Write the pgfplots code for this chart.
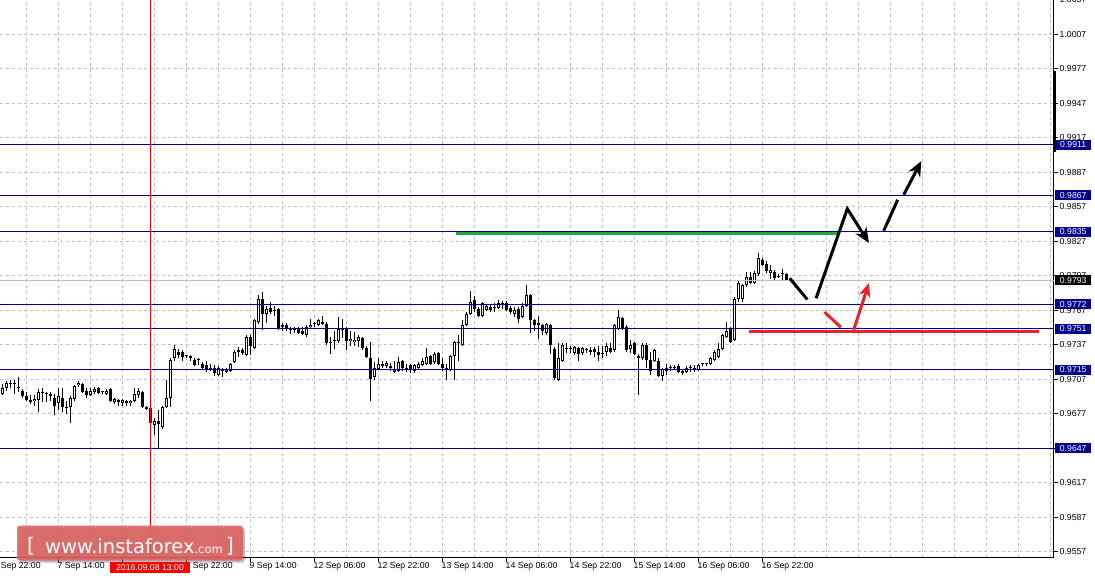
\documentclass[border=0pt]{standalone}
\usepackage{fontspec}
\setmainfont{Liberation Sans}
\newfontfamily\wmfont{DejaVu Sans}
\usepackage{pgfplots}
\usepackage{pgfplotstable}
\pgfplotsset{compat=1.18}
\usetikzlibrary{arrows.meta}
\definecolor{navy}{RGB}{0,0,140}
\definecolor{lvlgreen}{RGB}{34,168,72}
\definecolor{annred}{RGB}{238,32,40}
\definecolor{gridgray}{RGB}{192,192,192}
\definecolor{wmred}{RGB}{222,96,96}

% bullish (hollow) candles: index, open, high, low, close
\pgfplotstableread{
i o h l c
2 0.9694 0.9703 0.9693 0.9699
3 0.9699 0.9705 0.9697 0.9704
10 0.9688 0.9693 0.9684 0.9690
11 0.9689 0.9698 0.9678 0.9696
16 0.9686 0.9699 0.9680 0.9692
19 0.9683 0.9692 0.9669 0.9691
20 0.9690 0.9702 0.9688 0.9701
21 0.9702 0.9705 0.9700 0.9704
24 0.9693 0.9699 0.9692 0.9697
25 0.9696 0.9700 0.9694 0.9698
28 0.9694 0.9698 0.9693 0.9697
30 0.9687 0.9691 0.9685 0.9690
32 0.9686 0.9690 0.9684 0.9689
34 0.9686 0.9689 0.9684 0.9688
35 0.9688 0.9699 0.9687 0.9694
36 0.9693 0.9699 0.9691 0.9697
40 0.9667 0.9673 0.9658 0.9671
42 0.9665 0.9684 0.9664 0.9683
43 0.9683 0.9706 0.9682 0.9691
44 0.9691 0.9725 0.9683 0.9724
45 0.9725 0.9737 0.9723 0.9733
56 0.9711 0.9718 0.9710 0.9717
59 0.9714 0.9721 0.9713 0.9720
60 0.9722 0.9732 0.9721 0.9731
63 0.9728 0.9745 0.9727 0.9744
65 0.9734 0.9759 0.9733 0.9758
66 0.9757 0.9780 0.9755 0.9777
68 0.9764 0.9771 0.9756 0.9768
78 0.9745 0.9754 0.9744 0.9752
79 0.9752 0.9759 0.9751 0.9754
81 0.9754 0.9759 0.9753 0.9758
86 0.9740 0.9761 0.9738 0.9751
89 0.9740 0.9749 0.9736 0.9742
90 0.9739 0.9748 0.9736 0.9741
91 0.9740 0.9745 0.9735 0.9744
95 0.9709 0.9722 0.9706 0.9717
96 0.9716 0.9725 0.9715 0.9720
98 0.9718 0.9723 0.9717 0.9721
101 0.9714 0.9726 0.9713 0.9722
105 0.9714 0.9720 0.9712 0.9719
106 0.9717 0.9722 0.9716 0.9720
107 0.9719 0.9725 0.9718 0.9723
108 0.9720 0.9734 0.9719 0.9726
110 0.9722 0.9731 0.9720 0.9729
114 0.9715 0.9728 0.9714 0.9727
115 0.9727 0.9740 0.9706 0.9739
117 0.9737 0.9758 0.9736 0.9754
118 0.9754 0.9765 0.9753 0.9764
119 0.9764 0.9784 0.9763 0.9774
122 0.9762 0.9774 0.9761 0.9773
123 0.9767 0.9772 0.9766 0.9771
126 0.9769 0.9776 0.9768 0.9773
130 0.9764 0.9770 0.9761 0.9767
132 0.9761 0.9773 0.9760 0.9771
133 0.9771 0.9789 0.9770 0.9780
138 0.9747 0.9756 0.9745 0.9755
141 0.9706 0.9738 0.9705 0.9725
142 0.9723 0.9738 0.9722 0.9737
145 0.9730 0.9736 0.9728 0.9735
147 0.9730 0.9735 0.9728 0.9734
153 0.9731 0.9738 0.9727 0.9736
155 0.9732 0.9755 0.9731 0.9754
156 0.9751 0.9767 0.9750 0.9761
159 0.9733 0.9741 0.9730 0.9737
162 0.9725 0.9738 0.9724 0.9737
165 0.9723 0.9733 0.9722 0.9732
167 0.9710 0.9717 0.9705 0.9716
168 0.9714 0.9720 0.9711 0.9717
173 0.9713 0.9718 0.9712 0.9717
176 0.9715 0.9720 0.9714 0.9719
179 0.9720 0.9726 0.9719 0.9725
180 0.9724 0.9732 0.9723 0.9731
181 0.9726 0.9738 0.9725 0.9733
182 0.9733 0.9746 0.9732 0.9745
183 0.9744 0.9757 0.9743 0.9749
185 0.9741 0.9778 0.9740 0.9777
186 0.9777 0.9793 0.9774 0.9791
187 0.9777 0.9790 0.9774 0.9789
188 0.9789 0.9800 0.9787 0.9796
190 0.9791 0.9801 0.9790 0.9799
191 0.9798 0.9817 0.9797 0.9812
194 0.9799 0.9806 0.9794 0.9802
}\bull

% bearish (filled) and doji candles
\pgfplotstableread{
i o h l c
4 0.9702 0.9706 0.9699 0.9703
5 0.9704 0.9706 0.9694 0.9703
6 0.9700 0.9709 0.9696 0.9699
7 0.9697 0.9698 0.9691 0.9692
8 0.9692 0.9696 0.9688 0.9689
9 0.9689 0.9693 0.9685 0.9687
12 0.9695 0.9699 0.9687 0.9695
13 0.9695 0.9696 0.9687 0.9694
14 0.9694 0.9696 0.9688 0.9692
15 0.9691 0.9694 0.9676 0.9684
17 0.9691 0.9699 0.9678 0.9683
18 0.9683 0.9688 0.9677 0.9682
22 0.9703 0.9704 0.9695 0.9696
23 0.9697 0.9699 0.9691 0.9693
26 0.9699 0.9700 0.9694 0.9695
27 0.9696 0.9697 0.9694 0.9696
29 0.9698 0.9699 0.9687 0.9688
31 0.9689 0.9690 0.9684 0.9687
33 0.9688 0.9689 0.9684 0.9686
37 0.9696 0.9697 0.9682 0.9683
38 0.9683 0.9684 0.9680 0.9681
39 0.9682 0.9685 0.9668 0.9669
41 0.9671 0.9680 0.9647 0.9668
46 0.9731 0.9733 0.9725 0.9728
47 0.9731 0.9732 0.9723 0.9726
48 0.9727 0.9728 0.9725 0.9727
49 0.9727 0.9728 0.9723 0.9725
50 0.9724 0.9725 0.9718 0.9719
51 0.9724 0.9725 0.9719 0.9724
52 0.9720 0.9722 0.9716 0.9717
53 0.9719 0.9723 0.9713 0.9716
54 0.9717 0.9720 0.9714 0.9716
55 0.9717 0.9719 0.9710 0.9712
57 0.9715 0.9717 0.9709 0.9714
58 0.9716 0.9717 0.9712 0.9713
61 0.9731 0.9735 0.9726 0.9731
62 0.9732 0.9734 0.9728 0.9730
64 0.9744 0.9745 0.9728 0.9736
67 0.9777 0.9783 0.9750 0.9764
69 0.9769 0.9774 0.9764 0.9765
70 0.9766 0.9771 0.9762 0.9766
71 0.9768 0.9769 0.9750 0.9751
72 0.9754 0.9756 0.9749 0.9752
73 0.9754 0.9756 0.9749 0.9751
74 0.9749 0.9752 0.9746 0.9750
75 0.9750 0.9752 0.9747 0.9750
76 0.9751 0.9752 0.9746 0.9747
77 0.9749 0.9752 0.9745 0.9746
80 0.9754 0.9757 0.9752 0.9755
82 0.9757 0.9762 0.9754 0.9755
83 0.9755 0.9757 0.9737 0.9738
84 0.9739 0.9744 0.9729 0.9738
85 0.9741 0.9749 0.9733 0.9740
87 0.9751 0.9759 0.9743 0.9750
88 0.9751 0.9752 0.9732 0.9740
92 0.9743 0.9744 0.9732 0.9734
93 0.9734 0.9736 0.9725 0.9726
94 0.9725 0.9739 0.9688 0.9707
97 0.9720 0.9723 0.9717 0.9718
99 0.9718 0.9721 0.9714 0.9717
100 0.9716 0.9723 0.9712 0.9713
102 0.9723 0.9724 0.9714 0.9717
103 0.9717 0.9720 0.9713 0.9716
104 0.9719 0.9720 0.9712 0.9715
109 0.9727 0.9728 0.9719 0.9720
111 0.9730 0.9731 0.9719 0.9720
112 0.9720 0.9725 0.9714 0.9717
113 0.9717 0.9720 0.9706 0.9715
116 0.9739 0.9745 0.9723 0.9738
120 0.9776 0.9779 0.9765 0.9768
121 0.9768 0.9770 0.9761 0.9762
124 0.9770 0.9772 0.9765 0.9767
125 0.9770 0.9773 0.9765 0.9769
127 0.9772 0.9775 0.9768 0.9772
128 0.9773 0.9775 0.9766 0.9767
129 0.9769 0.9771 0.9764 0.9765
131 0.9768 0.9770 0.9756 0.9759
134 0.9780 0.9781 0.9747 0.9758
135 0.9758 0.9759 0.9749 0.9754
136 0.9756 0.9762 0.9742 0.9754
137 0.9754 0.9755 0.9745 0.9749
139 0.9754 0.9755 0.9729 0.9737
140 0.9733 0.9735 0.9706 0.9708
143 0.9734 0.9738 0.9730 0.9733
144 0.9734 0.9736 0.9730 0.9733
146 0.9734 0.9735 0.9723 0.9729
148 0.9732 0.9734 0.9730 0.9732
149 0.9732 0.9735 0.9728 0.9731
150 0.9733 0.9735 0.9726 0.9731
151 0.9731 0.9736 0.9723 0.9728
152 0.9730 0.9736 0.9725 0.9729
154 0.9734 0.9738 0.9730 0.9731
157 0.9760 0.9761 0.9750 0.9751
158 0.9752 0.9754 0.9731 0.9732
160 0.9738 0.9739 0.9728 0.9729
161 0.9727 0.9729 0.9693 0.9725
163 0.9737 0.9738 0.9717 0.9724
164 0.9724 0.9731 0.9711 0.9714
166 0.9723 0.9725 0.9709 0.9710
169 0.9717 0.9719 0.9714 0.9717
170 0.9717 0.9719 0.9715 0.9717
171 0.9718 0.9720 0.9712 0.9713
172 0.9714 0.9716 0.9711 0.9712
174 0.9717 0.9719 0.9713 0.9717
175 0.9717 0.9719 0.9713 0.9716
177 0.9719 0.9721 0.9718 0.9720
178 0.9719 0.9721 0.9718 0.9720
184 0.9751 0.9752 0.9738 0.9739
189 0.9796 0.9800 0.9790 0.9791
192 0.9811 0.9812 0.9805 0.9806
193 0.9807 0.9810 0.9799 0.9801
195 0.9800 0.9802 0.9793 0.9795
196 0.9796 0.9798 0.9795 0.9796
197 0.9797 0.9803 0.9793 0.9798
198 0.9798 0.9799 0.9792 0.9793
}\bear

\pgfplotsset{
  ebar/.style 2 args={draw=none, mark=none, forget plot,
    error bars/.cd, y dir=plus, y explicit, error mark=none,
    error bar style={draw=#1, solid, #2}},
}
\newcommand\lblfont{\fontsize{8.7}{10}\selectfont}
\tikzset{
  lvl/.style={navy, line width=1pt},
  lvlbox/.style={fill=#1, text=white, anchor=west, minimum width=36pt, minimum height=10pt, inner sep=0pt, font=\lblfont, xshift=1.5pt},
}

\begin{document}
\begin{tikzpicture}
\begin{axis}[
  name=ax, at={(0pt,0pt)}, anchor=south west,
  scale only axis, width=1053.5pt, height=557.5pt,
  xmin=1.375, xmax=264.75, ymin=0.955187, ymax=1.003665,
  axis x line*=bottom, axis y line*=right,
  axis line style={black, line width=1pt, -},
  xtick={16,32,...,192},
  xticklabels={7 Sep 14:00, 8 Sep 06:00, 8 Sep 22:00, 9 Sep 14:00, 12 Sep 06:00, 12 Sep 22:00, 13 Sep 14:00, 14 Sep 06:00, 14 Sep 22:00, 15 Sep 14:00, 16 Sep 06:00, 16 Sep 22:00},
  minor xtick={8,24,40,56,72,88,104,120,136,152,168,184,200,208,216,224,232,240,248,256,264},
  ytick={0.9557,0.9587,0.9617,0.9647,0.9677,0.9707,0.9737,0.9767,0.9797,0.9827,0.9857,0.9887,0.9917,0.9947,0.9977,1.0007},
  yticklabels={0.9557,0.9587,0.9617,0.9647,0.9677,0.9707,0.9737,0.9767,0.9797,0.9827,0.9857,0.9887,0.9917,0.9947,0.9977,1.0007},
  tick align=outside, major tick length=4pt, minor tick length=0pt,
  tick style={black, line width=1pt},
  xmajorgrids, xminorgrids, ymajorgrids,
  major grid style={gridgray, line width=1pt, dash pattern=on 3pt off 3pt},
  minor grid style={gridgray, line width=1pt, dash pattern=on 3pt off 3pt},
  xticklabel style={anchor=north west, inner sep=0pt, font=\lblfont, xshift=-1pt, yshift=-1pt},
  yticklabel style={anchor=west, inner sep=0pt, font=\lblfont, xshift=2pt},
  clip mode=individual,
]
% wicks
\addplot[ebar={black}{line width=1pt}] table[x=i, y=l, y error expr=\thisrow{h}-\thisrow{l}] {\bull};
\addplot[ebar={black}{line width=1pt}] table[x=i, y=l, y error expr=\thisrow{h}-\thisrow{l}] {\bear};
% bodies
\addplot[ebar={black}{line width=3pt}] table[x=i, y=o, y error expr=\thisrow{c}-\thisrow{o}] {\bull};
\addplot[ebar={black}{line width=3pt}] table[x=i, y=c, y error expr={max(\thisrow{o}-\thisrow{c},0.00009)}] {\bear};
\addplot[ebar={white}{line width=1pt, shorten <=1pt, shorten >=1pt}] table[x=i, y=o, y error expr=\thisrow{c}-\thisrow{o}] {\bull};

% levels
\draw[gridgray, line width=1pt] (axis cs:1.375,0.9793) -- (axis cs:264.75,0.9793);
\draw[lvl] (axis cs:1.375,0.9911) -- (axis cs:264.75,0.9911);
\draw[lvl] (axis cs:1.375,0.9867) -- (axis cs:264.75,0.9867);
\draw[lvl] (axis cs:1.375,0.9835) -- (axis cs:264.75,0.9835);
\draw[lvl] (axis cs:1.375,0.9772) -- (axis cs:264.75,0.9772);
\draw[lvl] (axis cs:1.375,0.9751) -- (axis cs:264.75,0.9751);
\draw[lvl] (axis cs:1.375,0.9715) -- (axis cs:264.75,0.9715);
\draw[lvl] (axis cs:1.375,0.9647) -- (axis cs:264.75,0.9647);
\draw[red, line width=1pt] (axis cs:39,0.955187) -- (axis cs:39,1.003665);
\draw[lvlgreen, line width=3pt] (axis cs:115.4,0.9834) -- (axis cs:211.25,0.9834);
\draw[annred, line width=3pt] (axis cs:188.5,0.97487) -- (axis cs:261,0.97487);

% forecast arrows
\draw[black, line width=3pt] (axis cs:198.8,0.97947) -- (axis cs:203.2,0.97762);
\draw[black, line width=3pt, -{Stealth[length=15pt,width=13pt]}] (axis cs:205.4,0.97774) -- (axis cs:213.2,0.98551) -- (axis cs:218.6,0.98255);
\draw[black, line width=3pt] (axis cs:222.3,0.98360) -- (axis cs:225.8,0.98629);
\draw[black, line width=3pt, -{Stealth[length=15pt,width=13pt]}] (axis cs:227.3,0.98673) -- (axis cs:231.7,0.98965);
\draw[annred, line width=3pt] (axis cs:207.5,0.97652) -- (axis cs:211.6,0.97521);
\draw[annred, line width=3pt, -{Stealth[length=14pt,width=12pt]}] (axis cs:214.8,0.97499) -- (axis cs:218.6,0.97904);

% right price boxes
\draw[black, line width=3.2pt] ([xshift=0.6pt]axis cs:264.75,0.99747) -- ([xshift=0.6pt]axis cs:264.75,0.99043);
\node[anchor=west, inner sep=0pt, font=\lblfont, xshift=6pt] at (axis cs:264.75,1.0037) {1.0037};
\node[lvlbox=navy] at (axis cs:264.75,0.9911) {0.9911};
\node[lvlbox=navy] at (axis cs:264.75,0.9867) {0.9867};
\node[lvlbox=navy] at (axis cs:264.75,0.9835) {0.9835};
\node[lvlbox=navy] at (axis cs:264.75,0.9772) {0.9772};
\node[lvlbox=navy] at (axis cs:264.75,0.9751) {0.9751};
\node[lvlbox=navy] at (axis cs:264.75,0.9715) {0.9715};
\node[lvlbox=navy] at (axis cs:264.75,0.9647) {0.9647};
\node[lvlbox=black] at (axis cs:264.75,0.9793) {0.9793};
\node[anchor=north west, inner sep=0pt, font=\lblfont, xshift=-1pt, yshift=-5pt] at (axis cs:0,0.955187) {6 Sep 22:00};
\end{axis}

% watermark
\begin{scope}[shift={(ax.south west)}]
\fill[black, opacity=0.25, rounded corners=3pt] (19pt,-5pt) rectangle (245pt,30pt);
\fill[wmred, opacity=0.88, rounded corners=3pt] (17pt,-3pt) rectangle (243pt,32pt);
\node[anchor=base west, inner sep=0pt, text=white] at (27pt,5pt) {\wmfont\fontsize{20}{20}\selectfont [};
\node[anchor=base west, inner sep=0pt, text=white] at (45pt,3.7pt) {\wmfont\fontsize{19.5}{20}\selectfont www.instaforex\fontsize{11.5}{12}\selectfont.com};
\node[anchor=base west, inner sep=0pt, text=white] at (226pt,5pt) {\wmfont\fontsize{20}{20}\selectfont ]};
\node[fill=red, text=white, minimum width=80pt, minimum height=11pt, inner sep=0pt, font=\lblfont] at (150pt,-9.5pt) {2016.09.08 13:00};
\end{scope}
\pgfresetboundingbox
\useasboundingbox ([yshift=-19.5pt]ax.south west) rectangle ([xshift=41.5pt]ax.north east);
\end{tikzpicture}
\end{document}
